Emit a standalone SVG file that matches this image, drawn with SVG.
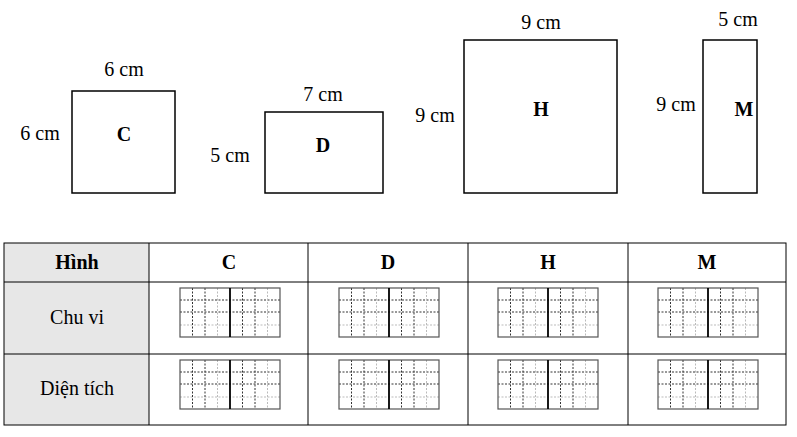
<svg xmlns="http://www.w3.org/2000/svg" width="797" height="437" viewBox="0 0 797 437">
<defs>
<style>
text{font-family:"Liberation Serif",serif;font-size:20px;fill:#000;text-anchor:middle}
.b{font-weight:bold}
.shape{fill:#fff;stroke:#000;stroke-width:1.5}
.cell{stroke:#000;stroke-width:1}
.d{stroke:#333;stroke-width:1;stroke-dasharray:2,1.5}
.l{stroke:#bbb;stroke-width:1;stroke-dasharray:2,1.5}
</style>
<g id="grid">
<line class="d" x1="0" y1="12" x2="100" y2="12"/>
<line class="d" x1="0" y1="24" x2="100" y2="24"/>
<line class="l" x1="0" y1="37" x2="100" y2="37"/>
<line class="d" x1="12.5" y1="0" x2="12.5" y2="49"/>
<line class="d" x1="25" y1="0" x2="25" y2="49"/>
<line class="l" x1="37.5" y1="0" x2="37.5" y2="49"/>
<line class="d" x1="62.5" y1="0" x2="62.5" y2="49"/>
<line class="d" x1="75" y1="0" x2="75" y2="49"/>
<line class="l" x1="87.5" y1="0" x2="87.5" y2="49"/>
<rect x="0" y="0" width="100" height="49" fill="none" stroke="#555" stroke-width="1.2"/>
<line x1="50" y1="0" x2="50" y2="49" stroke="#000" stroke-width="1.8"/>
</g>
</defs>
<rect width="797" height="437" fill="#fff"/>
<g id="C"><rect class="shape" x="72" y="91" width="103" height="102"/><text x="124" y="76">6 cm</text><text x="40" y="140">6 cm</text><text class="b" x="124" y="141">C</text></g>
<g id="D"><rect class="shape" x="265" y="112" width="118" height="81"/><text x="323" y="101">7 cm</text><text x="230" y="162">5 cm</text><text class="b" x="323" y="152">D</text></g>
<g id="H"><rect class="shape" x="464" y="40" width="153" height="153"/><text x="541" y="29">9 cm</text><text x="435" y="122">9 cm</text><text class="b" x="541" y="116">H</text></g>
<g id="M"><rect class="shape" x="703" y="40" width="54" height="153"/><text x="738" y="26">5 cm</text><text x="676" y="111">9 cm</text><text class="b" x="744" y="116">M</text></g>
<g id="table">
<rect x="4" y="243" width="145" height="182" fill="#e7e7e7"/>
<rect x="4" y="243" width="782" height="182" fill="none" class="cell"/>
<line class="cell" x1="4" y1="282" x2="786" y2="282"/>
<line class="cell" x1="4" y1="354" x2="786" y2="354"/>
<line class="cell" x1="149" y1="243" x2="149" y2="425"/>
<line class="cell" x1="308" y1="243" x2="308" y2="425"/>
<line class="cell" x1="468" y1="243" x2="468" y2="425"/>
<line class="cell" x1="628" y1="243" x2="628" y2="425"/>
<text class="b" x="77" y="269">Hình</text>
<text class="b" x="229" y="269" font-size="22">C</text>
<text class="b" x="388" y="269" font-size="22">D</text>
<text class="b" x="548" y="269" font-size="22">H</text>
<text class="b" x="707" y="269" font-size="22">M</text>
<text x="77" y="324" font-size="22">Chu vi</text>
<text x="77" y="395" font-size="22">Diện tích</text>
<use href="#grid" x="180" y="288"/><use href="#grid" x="339" y="288"/><use href="#grid" x="498" y="288"/><use href="#grid" x="658" y="288"/>
<use href="#grid" x="180" y="360"/><use href="#grid" x="339" y="360"/><use href="#grid" x="498" y="360"/><use href="#grid" x="658" y="360"/>
</g>
</svg>
